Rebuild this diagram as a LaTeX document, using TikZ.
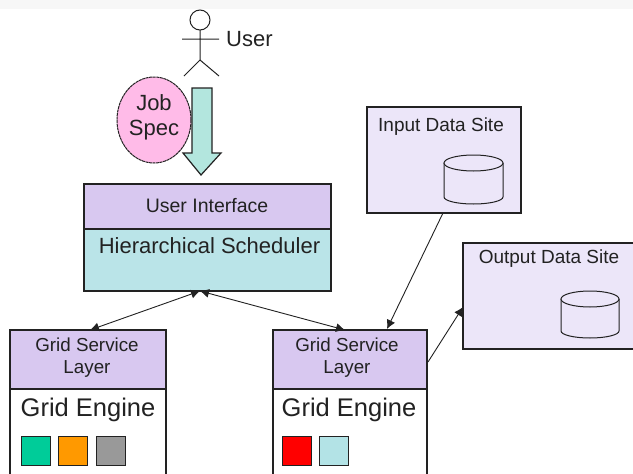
\documentclass[tikz,border=0pt]{standalone}
\usepackage{fontspec}
\setmainfont{Liberation Sans}
\usetikzlibrary{arrows.meta,shapes.geometric}
\definecolor{lav}{HTML}{D8C8F0}
\definecolor{pale}{HTML}{ECE6F9}
\definecolor{sky}{HTML}{BAE4E8}
\definecolor{mint}{HTML}{B3E6DE}
\definecolor{pinkj}{HTML}{FFBBE8}
\definecolor{band}{HTML}{F7F7F7}
\definecolor{ink}{HTML}{222222}
\definecolor{sgreen}{HTML}{00CC99}
\definecolor{sorange}{HTML}{FF9900}
\definecolor{sgray}{HTML}{999999}
\definecolor{sred}{HTML}{FF0000}
\definecolor{scyan}{HTML}{B3E3E6}
\tikzset{
  x=1pt,y=-1pt,
  panel/.style={draw=ink,line width=1.1pt,anchor=north west,inner sep=0pt,outer sep=0pt},
  lbl/.style={text=ink,inner sep=0pt,align=center,font=\fontsize{#1}{#1}\selectfont},
  link/.style={draw=ink,line width=0.9pt,-{Latex[length=9pt,width=9pt]}},
  link2/.style={link,{Latex[length=9pt,width=9pt]}-{Latex[length=9pt,width=9pt]}},
  swatch/.style={draw=ink,line width=1.1pt,anchor=north west,minimum size=29pt,inner sep=0pt},
  canline/.style={draw=ink,line width=1pt,fill=pale},
}
\begin{document}
\begin{tikzpicture}
\useasboundingbox (0,0) rectangle (633,474);
\fill[white] (0,0) rectangle (633,474);
\fill[band] (0,0) rectangle (633,9);
% stick figure
\draw[ink,line width=1pt] (200,20) circle (10);
\draw[ink,line width=1pt] (200,30) -- (200,60) (182,39) -- (219,39) (184,76) -- (200,60) -- (219,76);
\node[lbl=22,anchor=west] (user) at (226,39) {User};
% down arrow
\draw[ink,line width=1.2pt,fill=mint] (192,88) -- (212,88) -- (212,153) -- (221,153) -- (201,175) -- (183,153) -- (192,153) -- cycle;
% job spec
\node[draw=ink,line width=1pt,dash pattern=on 3pt off 0.6pt,fill=pinkj,ellipse,minimum width=74pt,minimum height=86pt,inner sep=0pt] (job) at (154,120) {};
\node[lbl=22] (jobt) at (154,117) {Job\\[3pt]Spec};
% scheduler
\node[panel,fill=sky,minimum width=247pt,minimum height=62pt] (sched) at (84,229) {};
\node[panel,fill=lav,minimum width=247pt,minimum height=45pt] (ui) at (84,184) {};
\node[lbl=19.5] (uit) at (207,206) {User Interface};
\node[lbl=22] (hst) at (209.5,246) {Hierarchical Scheduler};
% left stack
\node[panel,fill=white,minimum width=156pt,minimum height=90pt] (e1) at (10,389) {};
\node[panel,fill=lav,minimum width=156pt,minimum height=59pt] (g1) at (10,330) {};
\node[lbl=18.8] (g1t) at (87,358) {Grid Service\\[3pt]Layer};
\node[lbl=25.5] (e1t) at (88,410) {Grid Engine};
\node[swatch,fill=sgreen] (s1) at (21,436) {};
\node[swatch,fill=sorange] (s2) at (57.5,436) {};
\node[swatch,fill=sgray] (s3) at (95.5,436) {};
% right stack
\node[panel,fill=white,minimum width=154pt,minimum height=90pt] (e2) at (273,389) {};
\node[panel,fill=lav,minimum width=154pt,minimum height=59pt] (g2) at (273,330) {};
\node[lbl=18.8] (g2t) at (347,358) {Grid Service\\[3pt]Layer};
\node[lbl=25.5] (e2t) at (349,410) {Grid Engine};
\node[swatch,fill=sred] (s4) at (282,436) {};
\node[swatch,fill=scyan] (s5) at (319,436) {};
% data sites
\node[panel,fill=pale,minimum width=154pt,minimum height=106pt] (input) at (367,107) {};
\node[lbl=19] (inputt) at (441,127) {Input Data Site};
\draw[canline] (444,163) -- (444,197) arc[start angle=180,end angle=360,x radius=29.5,y radius=-7] -- (503,163);
\draw[canline] (473.5,163) ellipse[x radius=29.5,y radius=8];
\node[panel,fill=pale,minimum width=175pt,minimum height=106pt] (output) at (463,243) {};
\node[lbl=19] (outputt) at (549,259) {Output Data Site};
\draw[canline] (561,299) -- (561,331) arc[start angle=180,end angle=360,x radius=29,y radius=-7] -- (619,299);
\draw[canline] (590,299) ellipse[x radius=29,y radius=8];
% connectors
\coordinate (hub) at (200,291);
\coordinate (g1top) at (90,330);
\coordinate (g2top) at (345,330);
\coordinate (inout) at (443,213);
\coordinate (g2in) at (387,329);
\coordinate (g2out) at (428,362);
\coordinate (outin) at (463,307);
\draw[link2] (g1top) -- (hub);
\draw[link2] (hub) -- (g2top);
\draw[link] (inout) -- (g2in);
\draw[link] (g2out) -- (outin);
\end{tikzpicture}
\end{document}
